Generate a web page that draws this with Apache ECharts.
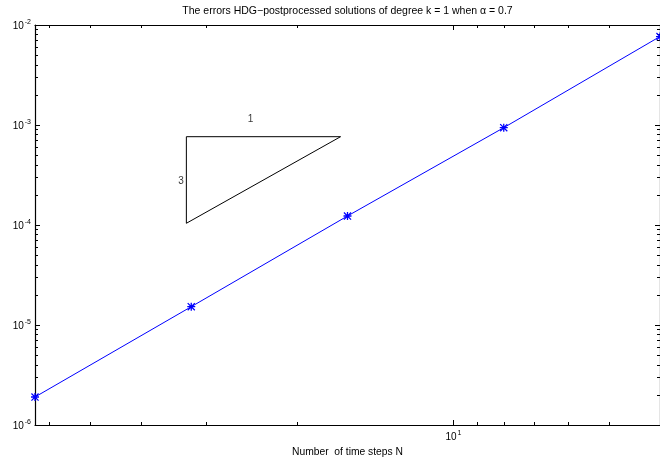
<!DOCTYPE html>
<html>
<head>
<meta charset="utf-8">
<script src="https://cdn.jsdelivr.net/npm/echarts@6/dist/echarts.min.js"></script>
<style>
  html, body { margin: 0; padding: 0; background: #fff; }
  #chart { width: 660px; height: 462px; }
</style>
</head>
<body>
<div id="chart"></div>
<script>
// Convergence data: error of the post-processed HDG solution vs. number of time steps
const stepsN = [64, 32, 16, 8, 4];
const errors = [1.905e-6, 1.524e-5, 1.23e-4, 9.4e-4, 7.67e-3];

// Slope triangle (order 3) drawn in data coordinates
const triangleN = [32.7, 16.5, 32.7, 32.7];
const triangleErr = [7.64e-4, 7.64e-4, 1.04e-4, 7.64e-4];
const slopeText = ['1', '3'];
const slopeTextN = [24.6, 33.5];
const slopeTextErr = [1.14e-3, 2.71e-4];

// Axis ticks
const xMajorTicks = [10];
const xMinorTicks = [5, 6, 7, 8, 9, 20, 30, 40, 50, 60];
const yMajorTicks = [1e-6, 1e-5, 1e-4, 1e-3, 1e-2];
const yDecades = [1e-6, 1e-5, 1e-4, 1e-3];
const mantissas = [2, 3, 4, 5, 6, 7, 8, 9];
const yMinorTicks = [];
yDecades.forEach(d => mantissas.forEach(m => yMinorTicks.push(m * d)));

const titleText = 'The errors HDG\u2212postprocessed solutions of degree k = 1 when \u03b1 = 0.7';
const xName = 'Number  of time steps N';

const FONT = '"Liberation Sans", Arial, Helvetica, sans-serif';
const INK = '#000';

const expLabel = v => '{b|10}{s|' + Math.round(Math.log10(v)) + '}';
const expRich = {
  b: { fontSize: 10, fontFamily: FONT, color: INK, verticalAlign: 'bottom' },
  s: { fontSize: 7, fontFamily: FONT, color: INK, verticalAlign: 'bottom', padding: [0, 0, 5, 1] }
};

function xAxisDef(pos, ticks, len, withLine, withLabel, extra) {
  return Object.assign({
    type: 'log', logBase: 10, min: 4, max: 64, inverse: true, position: pos,
    axisLine: { show: withLine, lineStyle: { color: INK, width: 1.2 } },
    axisTick: { show: true, inside: true, length: len, customValues: ticks, lineStyle: { color: INK, width: 1 } },
    axisLabel: withLabel
      ? { show: true, customValues: ticks, formatter: expLabel, rich: expRich, margin: 5 }
      : { show: false },
    splitLine: { show: false }, minorTick: { show: false }
  }, extra || {});
}

function yAxisDef(pos, ticks, len, withLine, withLabel) {
  return {
    type: 'log', logBase: 10, min: 1e-6, max: 1e-2, position: pos,
    axisLine: { show: withLine, lineStyle: { color: INK, width: 1.2 } },
    axisTick: { show: true, inside: true, length: len, customValues: ticks, lineStyle: { color: INK, width: 1 } },
    axisLabel: withLabel
      ? { show: true, customValues: ticks, formatter: expLabel, rich: expRich, margin: 4 }
      : { show: false },
    splitLine: { show: false }, minorTick: { show: false }
  };
}

// MATLAB-style asterisk marker
const asterisk = 'path://M4.2 0H5.8V10H4.2Z M0 4.2H10V5.8H0Z M1.1 0L10 8.9L8.9 10L0 1.1Z M8.9 0L10 1.1L1.1 10L0 8.9Z';

const chart = echarts.init(document.getElementById('chart'), null, { renderer: 'canvas' });
chart.setOption({
  animation: false,
  backgroundColor: '#fff',
  textStyle: { fontFamily: FONT },
  grid: { left: 35, top: 25, right: -1, bottom: 37, containLabel: false },
  xAxis: [
    xAxisDef('bottom', xMajorTicks, 5, true, true, {
      name: xName, nameLocation: 'middle', nameGap: 20,
      nameTextStyle: { fontSize: 10.3, fontFamily: FONT, color: INK }
    }),
    xAxisDef('top', xMajorTicks, 5, true, false, {
      name: titleText, nameLocation: 'middle', nameGap: 8,
      nameTextStyle: { fontSize: 10.5, fontFamily: FONT, color: INK }
    }),
    xAxisDef('bottom', xMinorTicks, 3, false, false),
    xAxisDef('top', xMinorTicks, 3, false, false)
  ],
  yAxis: [
    yAxisDef('left', yMajorTicks, 5, true, true),
    yAxisDef('right', yMajorTicks, 5, true, false),
    yAxisDef('left', yMinorTicks, 3, false, false),
    yAxisDef('right', yMinorTicks, 3, false, false)
  ],
  series: [
    {
      type: 'line', xAxisIndex: 0, yAxisIndex: 0,
      data: stepsN.map((n, i) => [n, errors[i]]),
      color: '#0000ff',
      lineStyle: { color: '#0000ff', width: 1 },
      symbol: asterisk, symbolSize: 8, showAllSymbol: true,
      itemStyle: { color: '#0000ff' },
      clip: false, z: 3
    },
    {
      type: 'line', xAxisIndex: 0, yAxisIndex: 0,
      data: triangleN.map((n, i) => [n, triangleErr[i]]),
      symbol: 'none',
      lineStyle: { color: INK, width: 1 },
      z: 2
    },
    {
      type: 'scatter', xAxisIndex: 0, yAxisIndex: 0,
      data: slopeText.map((t, i) => ({ name: t, value: [slopeTextN[i], slopeTextErr[i]] })),
      symbolSize: 0,
      label: {
        show: true, position: 'inside', formatter: p => p.name,
        fontSize: 10, fontFamily: FONT, color: INK
      },
      z: 2
    }
  ]
});
</script>
</body>
</html>
